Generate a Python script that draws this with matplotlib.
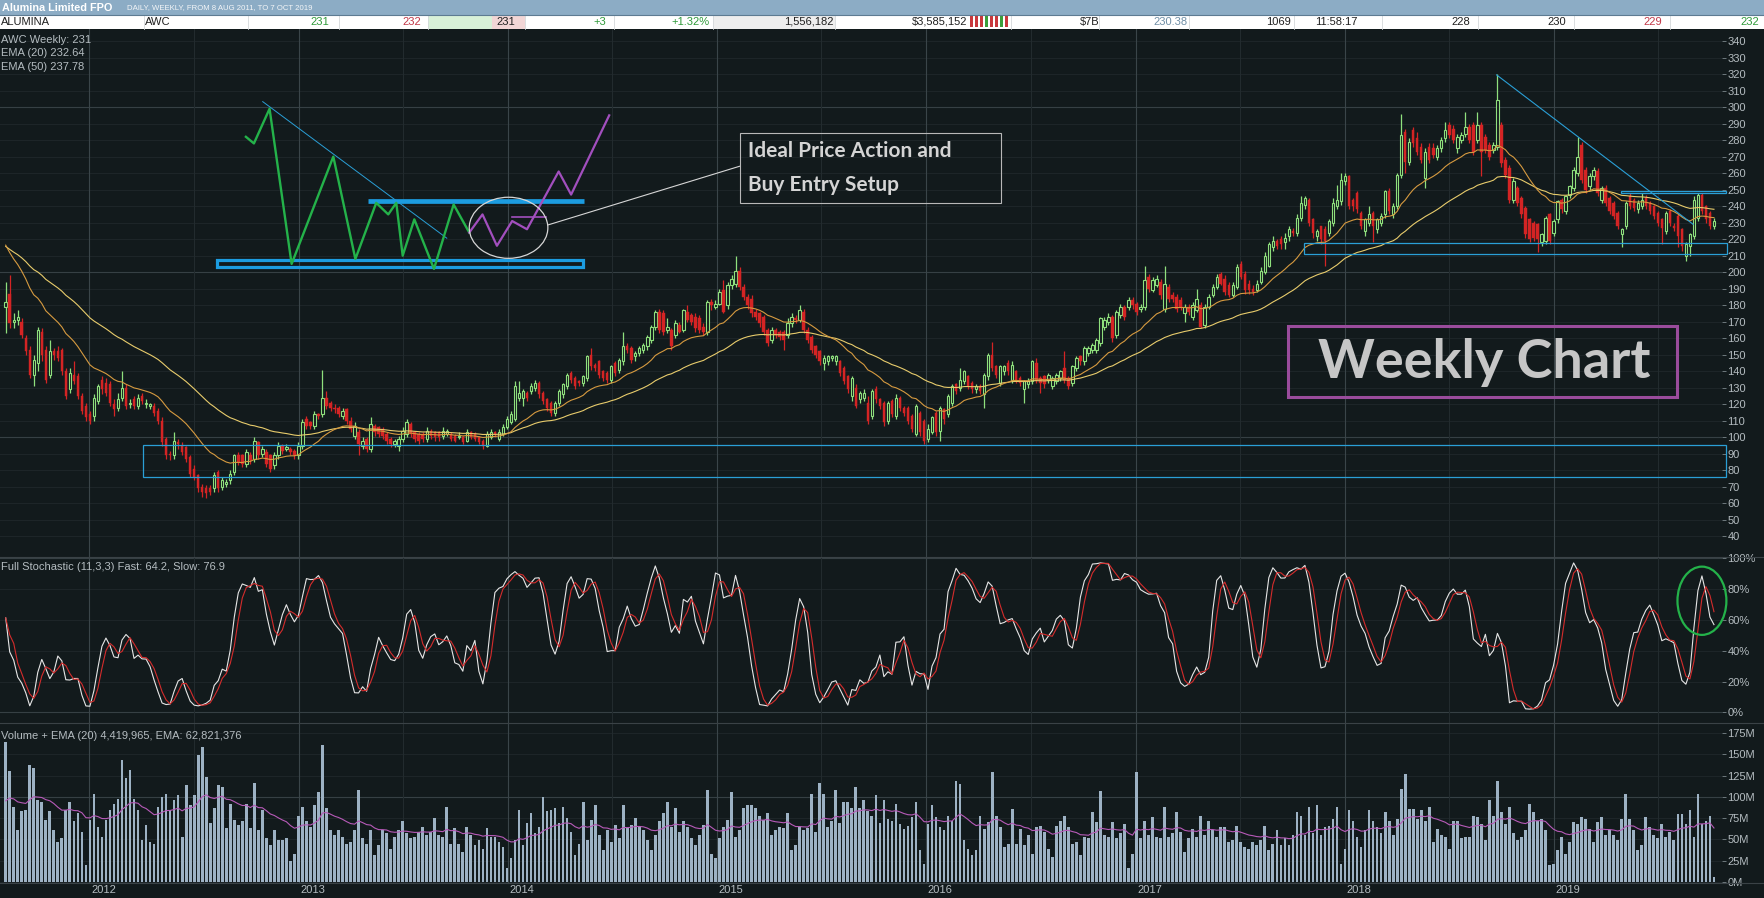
import numpy as np
import pandas as pd
import matplotlib
matplotlib.use("Agg")
import matplotlib.pyplot as plt
from matplotlib.patches import Rectangle, Ellipse
from matplotlib import font_manager as fm
import matplotlib.transforms as mtransforms

# ---------------------------------------------------------------- data
start_date = "2011-08-08"
years = [2012, 2013, 2014, 2015, 2016, 2017, 2018, 2019]
half_years = [2011, 2012, 2013, 2014, 2015, 2016, 2017, 2018, 2019]

opens = [
    179,187,170,171,170,160,153,138,145,164, 153,138,152,152,153,140,129,138,137,125,
    119,114,113,122,135,133,132,120,118,124, 130,120,123,119,125,120,119,119,116,110,
    99,90,89,97,95,94,88,81,77,70, 69,69,69,79,70,72,74,79,89,89,
    84,89,87,97,90,91,89,83,89,95, 93,93,92,89,95,111,109,107,114,114,
    124,121,118,118,113,117,110,101,103,95, 99,93,107,106,105,102,99,96,95,99,
    102,108,103,102,102,99,104,103,103,101, 102,102,101,100,100,98,103,102,100,98,
    95,100,103,99,102,106,109,111,124,124, 127,128,130,133,127,123,121,115,121,126,
    131,139,136,134,133,136,150,144,146,140, 139,135,145,141,146,155,154,149,151,153,
    155,159,167,176,175,165,165,162,168,165, 176,174,173,172,167,164,182,179,181,189,
    180,192,193,201,191,185,184,176,175,173, 165,159,165,164,164,162,169,172,171,176,
    165,161,155,152,145,146,148,146,146,142, 137,125,130,123,124,121,113,129,123,121,
    110,122,113,124,118,118,113,102,115,110, 99,103,115,104,117,114,121,132,130,134,
    137,133,129,131,126,137,150,143,133,140, 145,135,140,136,129,132,134,145,136,137,
    135,131,134,136,142,136,133,142,149,146, 151,153,153,157,167,170,173,162,174,179,
    179,183,181,178,179,197,189,192,194,178, 191,186,185,183,175,179,173,177,180,168,
    179,186,191,199,196,192,186,191,205,199, 193,190,189,194,200,204,215,219,220,218,
    222,225,224,233,241,244,232,222,228,226, 224,230,240,243,255,258,244,248,236,225,
    230,236,226,230,235,249,235,240,259,285, 267,286,281,276,257,276,275,270,275,281,
    289,287,275,280,284,288,289,280,289,282, 277,274,276,289,268,263,244,251,245,239,
    232,230,229,218,219,235,224,232,244,237, 247,251,260,277,262,252,258,261,244,251,
    245,242,236,223,228,246,244,238,240,245, 242,240,236,232,225,237,228,234,226,210,
    216,222,233,247,240,236,228,
]
closes = [
    182,169,171,173,162,152,138,147,165,150, 135,152,150,148,140,125,139,134,125,116,
    112,110,124,131,129,127,121,117,123,130, 119,121,119,124,122,121,120,115,110,97,
    89,89,98,96,91,87,78,76,69,67, 66,67,77,69,74,73,78,89,85,84,
    91,86,98,89,93,84,81,89,95,92, 94,91,89,95,109,107,107,114,113,124,
    119,118,117,114,116,110,105,107,96,98, 93,108,103,102,101,98,96,98,99,104,
    109,102,99,98,99,104,101,100,100,104, 104,99,98,101,97,103,100,99,97,95,
    102,103,102,103,106,111,114,131,127,128, 124,131,133,126,122,118,115,121,128,132,
    138,135,131,133,137,149,143,142,138,136, 135,143,139,147,155,153,147,151,154,156,
    161,167,176,165,164,167,155,169,164,177, 171,170,166,165,164,182,180,181,188,176,
    192,196,201,191,185,180,175,173,169,164, 157,165,162,161,159,169,173,171,177,165,
    159,153,150,146,148,149,149,149,139,134, 129,136,119,127,127,110,128,123,119,109,
    121,114,124,118,115,110,105,119,103,98, 105,112,103,118,111,125,131,128,135,140,
    131,129,131,128,138,150,142,138,143,143, 140,144,135,133,134,134,146,135,133,132,
    138,136,138,140,135,131,143,148,146,154, 154,156,159,172,171,173,160,176,179,173,
    183,180,176,179,195,190,195,196,186,193, 184,184,178,179,179,176,180,184,167,179,
    185,191,197,193,188,186,192,203,197,189, 189,188,193,201,210,217,219,216,217,221,
    226,224,233,242,245,230,224,225,220,219, 231,242,244,256,258,240,240,238,228,232,
    235,228,232,234,249,237,240,259,283,267, 279,278,273,268,273,268,271,275,280,286,
    283,280,282,283,288,280,273,289,273,274, 270,277,304,266,259,244,255,242,235,223,
    220,221,220,223,233,219,231,243,238,246, 252,262,270,256,250,258,262,248,251,242,
    237,234,228,226,242,240,239,242,244,240, 237,234,230,227,236,230,227,222,216,217,
    223,244,247,237,232,228,231,
]
highs = [
    194,198,175,177,172,162,155,150,167,166, 155,159,154,155,154,142,142,146,139,127,
    121,116,126,132,137,136,134,123,127,140, 132,123,125,126,127,123,121,121,118,112,
    100,92,103,99,97,95,89,83,78,72, 71,71,79,80,76,75,80,90,91,90,
    93,91,100,98,95,93,90,91,97,96, 96,94,93,97,111,113,110,116,115,141,
    128,122,120,119,118,118,112,109,105,100, 100,112,108,107,106,103,100,99,101,106,
    111,109,104,103,103,106,105,104,104,106, 105,103,102,103,101,105,104,103,101,99,
    104,105,104,105,108,113,116,134,134,129, 128,133,135,134,128,124,122,122,129,133,
    139,140,137,135,138,150,154,145,147,141, 140,144,146,148,164,157,155,152,155,157,
    162,168,177,178,177,172,166,171,170,178, 180,175,175,174,169,183,184,183,190,195,
    194,198,210,203,193,187,186,178,176,174, 166,167,166,165,165,172,175,174,180,178,
    167,162,156,153,150,150,150,150,147,143, 138,137,132,128,129,125,129,131,124,122,
    122,123,126,125,119,119,114,120,116,111, 108,113,116,119,118,126,132,133,142,141,
    138,134,132,132,139,151,158,144,144,144, 147,146,141,137,135,136,147,148,137,138,
    139,137,139,141,152,137,144,149,150,155, 155,157,160,173,173,175,174,177,181,180,
    185,185,182,181,204,199,197,198,196,204, 193,188,187,185,181,181,182,190,182,181,
    187,193,199,200,198,194,194,205,207,201, 195,192,195,203,212,218,222,220,222,224,
    228,227,235,246,246,245,233,226,228,228, 232,245,253,260,260,259,245,249,237,233,
    240,237,233,236,250,251,242,260,296,287, 281,288,285,278,275,278,278,277,282,291,
    291,289,284,285,297,290,291,297,291,284, 279,279,320,291,270,265,257,252,246,240,
    233,231,230,224,234,236,232,244,245,247, 253,264,282,279,264,260,264,263,252,253,
    246,243,237,227,243,248,245,244,248,247, 243,241,237,233,237,238,230,235,227,218,
    224,246,248,248,241,237,233,
]
lows = [
    163,166,166,168,160,150,136,131,140,146, 133,136,147,146,138,123,127,132,123,114,
    110,108,110,120,126,125,119,113,116,122, 117,118,117,117,120,118,117,113,108,95,
    87,86,87,93,89,85,76,74,67,64, 63,65,67,67,68,70,72,77,83,82,
    82,84,85,87,88,82,79,81,87,90, 92,89,87,87,93,105,105,105,111,112,
    117,116,115,112,111,108,103,99,89,93, 91,91,101,100,99,96,94,94,92,97,
    100,100,97,96,97,97,99,98,98,99, 101,98,97,99,96,97,99,98,96,93,
    94,99,100,98,101,105,108,110,122,119, 122,126,128,124,120,116,113,113,119,124,
    129,133,129,131,131,134,141,140,136,134, 133,133,137,139,144,151,145,146,149,151,
    153,157,165,163,162,163,153,160,163,164, 170,168,164,163,162,162,177,178,180,175,
    178,190,191,189,183,178,173,171,167,162, 155,157,160,159,153,160,167,169,170,163,
    157,151,148,144,141,144,146,144,137,132, 127,122,118,121,122,108,111,121,117,107,
    108,112,111,116,113,108,103,101,101,96, 97,102,101,98,108,112,119,126,128,132,
    129,127,127,126,118,135,140,136,131,138, 138,133,133,131,121,130,132,133,127,130,
    133,129,132,134,133,129,131,140,144,144, 149,151,151,155,165,168,158,160,172,171,
    177,178,174,176,177,188,188,191,184,176, 182,182,176,177,170,174,171,176,166,166,
    178,185,190,192,186,185,185,190,196,187, 187,186,188,193,199,203,213,214,214,214,
    219,222,222,231,238,228,221,219,217,204, 222,228,238,241,253,238,237,236,226,222,
    228,218,224,228,233,235,233,238,257,260, 265,276,271,266,251,266,269,268,273,279,
    281,278,272,278,282,278,271,278,258,272, 268,272,274,264,257,242,242,240,233,221,
    218,219,212,216,217,217,222,230,236,235, 245,249,258,254,248,250,256,246,242,240,
    235,232,226,215,226,238,237,236,238,238, 235,232,228,217,223,228,225,215,213,207,
    210,220,231,235,230,226,226,
]
# weekly volume, millions of shares
volumes = [
    165,130,88,61,83,85,138,134,96,94, 73,83,61,47,51,85,94,71,81,59,
    20,73,104,65,53,73,85,92,98,144, 122,132,98,85,49,67,47,45,88,
    100,104,85,96,102,53,114,90,102,149, 159,124,69,87,114,112,63,92,73,67,
    71,92,63,116,61,85,51,43,61, 49,49,51,24,33,77,88,71,65,90,
    106,161,87,61,55,61,53,45,47,61, 108,51,45,61,31,43,61,57,39,53,
    61,71,57,51,53,59,65,55,59,75, 55,53,88,45,63,45,35,65,55,43,
    49,39,63,53,53,47,41,16,28,49, 85,43,69,81,57,65,100,83,85,87,
    69,88,75,59,31,45,94,49,73,90, 55,37,61,47,67,51,90,63,67,
    75,65,61,49,37,55,71,81,94,65, 87,59,71,65,51,43,55,67,108,33,
    28,51,65,73,106,53,61,87,90,90, 87,77,73,81,55,61,65,63,81,
    37,43,65,61,63,104,59,116,104,65, 71,108,69,94,94,87,112,87,96,83,
    77,102,69,
    96,74,72,92,68,62,66,76,94,37, 21,68,90,76,64,61,78,72,119,
    115,49,39,31,37,78,62,70,129,78, 64,41,45,86,45,62,43,55,33,64,
    66,59,39,29,66,72,78,64,45, 47,31,53,51,82,70,107,55,53,70,
    51,57,68,16,33,129,51,72,55,76, 53,51,88,53,57,82,59,35,51,62,
    53,78,55,72,61,53,64,64,47,49, 66,47,41,39,47,43,49,66,37,45,
    61,43,51,43,55,82,78,55,88,57, 90,55,64,66,74,88,21,39,84,72,
    53,41,61,84,72,64,57,82,72,55, 74,109,127,86,86,74,84,72,88,47,
    62,55,53,39,72,72,51,53,53,78, 76,68,49,96,78,119,82,68,88,57,
    49,53,61,92,82,72,74,61,20, 21,37,53,33,47,70,68,76,74,62,
    47,70,76,55,61,55,49,74,104,74, 61,37,43,76,64,55,51,68,53,59,
    49,80,80,68,84,53,104,68,72,78, 6,
]
# EMA values carried in from before the first visible week
ema20_seed, ema50_seed, vol_ema_seed = 220, 217, 88

# hand-drawn annotation paths (week index, price)
green_path_x = [59.9, 61.9, 65.8, 71.3, 81.7, 87.2, 92.4, 95.4, 97.4, 99.0, 101.9, 106.8, 111.7, 115.6]
green_path_y = [282, 278, 299, 205, 270, 208, 242, 235, 242, 210, 232, 202, 241, 224]
purple_path_x = [115.6, 118.9, 122.5, 126.3, 130.0, 137.9, 141.0, 150.5]
purple_path_y = [224, 235, 216, 231, 226, 261, 247, 295]

n = len(closes)
for name, arr in [("opens", opens), ("highs", highs), ("lows", lows), ("volumes", volumes)]:
    assert len(arr) == n, (name, len(arr), n)

O = np.array(opens, float); C = np.array(closes, float)
Hh = np.array(highs, float); Ll = np.array(lows, float)
V = np.array(volumes, float)

dates = pd.date_range(start_date, periods=n, freq="7D")
x = np.arange(n)
t0 = dates[0]
year_pos = [(pd.Timestamp(f"{y}-01-01") - t0).days / 7 for y in years]
half_pos = [(pd.Timestamp(f"{y}-07-01") - t0).days / 7 for y in half_years]

def ema(vals, span, seed):
    a = 2.0 / (span + 1)
    out, prev = [], seed
    for v in vals:
        prev = prev + a * (v - prev)
        out.append(prev)
    return np.array(out)

ema20 = ema(C, 20, ema20_seed)
ema50 = ema(C, 50, ema50_seed)
vol_ema = ema(V, 20, vol_ema_seed)
hh = pd.Series(Hh).rolling(11, min_periods=1).max()
ll = pd.Series(Ll).rolling(11, min_periods=1).min()
raw_k = 100 * (pd.Series(C) - ll) / (hh - ll)
fast = raw_k.rolling(3, min_periods=1).mean().values
slow = pd.Series(fast).rolling(3, min_periods=1).mean().values

# ---------------------------------------------------------------- style
W, H, DPI = 1765, 898, 100
BG = "#121a1c"
GRID_F = "#1d2528"
GRID_B = "#364044"
VGRID_J = "#3a4549"
VGRID_H = "#222b2e"
LBL = "#b4bcc0"
UP = "#8fe07d"
DN = "#d42424"
BLUE = "#1c9ce0"
TBLUE = "#2a9fd6"

avail = {f.name for f in fm.fontManager.ttflist}
NARROW = "Liberation Sans Narrow" if "Liberation Sans Narrow" in avail else (
    "Liberation Sans" if "Liberation Sans" in avail else "DejaVu Sans")
BOLD = "Lato" if "Lato" in avail else ("Open Sans" if "Open Sans" in avail else "DejaVu Sans")
plt.rcParams["font.family"] = [NARROW, "DejaVu Sans"]

fig = plt.figure(figsize=(W / DPI, H / DPI), dpi=DPI, facecolor=BG)

def fy(ypx):
    return 1 - ypx / H

XR = 1722
xlim = (-5.7 / 4.01, (XR - 5.7) / 4.01)

ax = fig.add_axes([0, fy(557), XR / W, (557 - 29) / H], facecolor=BG)
axs = fig.add_axes([0, fy(722.5), XR / W, (722.5 - 557) / H], facecolor=BG)
axv = fig.add_axes([0, fy(883), XR / W, (883 - 722.5) / H], facecolor=BG)

for a in (ax, axs, axv):
    a.set_xlim(*xlim)
    for s in a.spines.values():
        s.set_visible(False)
    a.set_xticks([])
    a.yaxis.tick_right()
    a.tick_params(axis="y", colors="#7d888d", labelcolor=LBL, labelsize=8, length=3, width=0.6, pad=1)
    for p in year_pos:
        a.axvline(p, color=VGRID_J, lw=0.8, zorder=0.5)
    for p in half_pos:
        a.axvline(p, color=VGRID_H, lw=0.8, zorder=0.4)

# ---------------------------------------------------------------- price panel
ax.set_ylim(27.5, 347.3)
price_ticks = list(range(40, 341, 10))
for v in price_ticks:
    ax.axhline(v, color=GRID_B if v % 100 == 0 else GRID_F, lw=0.8, zorder=0.3)
ax.set_yticks(price_ticks)
ax.set_yticklabels([str(v) for v in price_ticks])

up = C >= O
dn = ~up
ax.vlines(x[up], Ll[up], Hh[up], colors=UP, lw=0.9, zorder=2)
ax.vlines(x[dn], Ll[dn], Hh[dn], colors=DN, lw=0.9, zorder=2)
ax.bar(x[up], np.maximum(C[up] - O[up], 0.3), bottom=O[up], width=0.6,
       facecolor=BG, edgecolor=UP, lw=0.8, zorder=3)
ax.bar(x[dn], O[dn] - C[dn], bottom=C[dn], width=0.62,
       facecolor=DN, edgecolor=DN, lw=0.3, zorder=3)
ax.plot(x, ema50, color="#e8cc6c", lw=0.8, zorder=4)
ax.plot(x, ema20, color="#d69a40", lw=0.8, zorder=4)

# annotations drawn on the price panel
ax.add_patch(Rectangle((34.2, 75.8), 394.8, 19.8, fc="none", ec=TBLUE, lw=0.9, clip_on=False, zorder=5))
ax.add_patch(Rectangle((323.8, 210.9), 105.4, 7.0, fc="none", ec=TBLUE, lw=0.9, clip_on=False, zorder=5))
ax.add_patch(Rectangle((402.8, 247.8), 26.2, 1.4, fc="none", ec=TBLUE, lw=0.9, clip_on=False, zorder=5))
ax.plot([371.8, 420.8], [319.5, 229.0], color=TBLUE, lw=0.8, zorder=5)

ax.plot([64.1, 110.0], [303.3, 220.6], color=TBLUE, lw=0.7, zorder=5)
ax.add_patch(Rectangle((52.8, 203.3), 91.1, 4.3, fc="none", ec=BLUE, lw=2.3, zorder=5))
ax.plot([90.4, 144.1], [243.2, 243.2], color=BLUE, lw=3.4, solid_capstyle="butt", zorder=5)
ax.plot(green_path_x, green_path_y, color="#24b24a", lw=1.7, zorder=6)
ax.plot(purple_path_x, purple_path_y, color="#a24fbe", lw=1.6, zorder=6)
ax.plot([126.3, 134.8], [233.3, 233.3], color="#a24fbe", lw=1.2, zorder=6)
ax.add_patch(Ellipse((125.4, 226.9), 19.6, 37.0, fc="none", ec="#d6d6d6", lw=0.9, zorder=6))
ax.plot([135.2, 183.2], [228.6, 264.3], color="#d6d6d6", lw=0.8, zorder=6)
ax.add_patch(Rectangle((183.2, 242.1), 65.1, 42.4, fc="none", ec="#b8b8b8", lw=0.8, zorder=6))
ax.text(185.0, 273.6, "Ideal Price Action and", family=[BOLD, "DejaVu Sans"], fontweight="bold",
        fontsize=15, color="#d4d4d4", ha="left", va="center", zorder=7)
ax.text(185.0, 252.8, "Buy Entry Setup", family=[BOLD, "DejaVu Sans"], fontweight="bold",
        fontsize=15, color="#d4d4d4", ha="left", va="center", zorder=7)

ax.add_patch(Rectangle((319.7, 124.2), 97.2, 43.4, fc="none", ec="#9a4c9c", lw=2.2, zorder=6))
ax.text(368.6, 135.8, "Weekly Chart", family=[BOLD, "DejaVu Sans"], fontweight="bold",
        fontsize=39, color="#c6c6c6", ha="center", va="baseline", zorder=7)

# ---------------------------------------------------------------- stochastic panel
axs.set_ylim(-6.6, 100.8)
st_ticks = [0, 20, 40, 60, 80, 100]
for v in st_ticks:
    axs.axhline(v, color=GRID_B if v in (0, 100) else GRID_F, lw=0.8, zorder=0.3)
axs.set_yticks(st_ticks)
axs.set_yticklabels([f"{v}%" for v in st_ticks])
axs.plot(x, fast, color="#e6e6e6", lw=0.8, zorder=3)
axs.plot(x, slow, color="#d42c2c", lw=0.8, zorder=4)
axs.add_patch(Ellipse((423.0, 72.4), 12.2, 44.3, fc="none", ec="#24b24a", lw=1.6, clip_on=False, zorder=6))

# ---------------------------------------------------------------- volume panel
axv.set_ylim(-1.5, 187.7)
v_ticks = list(range(0, 176, 25))
for v in v_ticks:
    axv.axhline(v, color=GRID_B if v == 100 else GRID_F, lw=0.8, zorder=0.3)
axv.set_yticks(v_ticks)
axv.set_yticklabels([f"{v}M" for v in v_ticks])
axv.bar(x, V, width=0.68, color="#9db2c4", zorder=2)
axv.plot(x, vol_ema, color="#b75ab8", lw=0.8, zorder=3)

# year labels
trans = mtransforms.blended_transform_factory(axv.transData, fig.transFigure)
for y, p in zip(years, year_pos):
    fig.text(p + 0.4, fy(890), str(y), transform=trans, color=LBL, fontsize=8,
             ha="left", va="center")

# panel separators
for yy in (557, 722.5, 883):
    fig.add_artist(plt.Line2D([0, 1], [fy(yy), fy(yy)], transform=fig.transFigure,
                              color="#3a4246", lw=0.8))

# ---------------------------------------------------------------- header
fig.add_artist(Rectangle((0, fy(14.7)), 1, 14.7 / H, transform=fig.transFigure,
                         fc="#8cacc5", ec="none"))
fig.add_artist(Rectangle((0, fy(29)), 1, 14.3 / H, transform=fig.transFigure,
                         fc="#ffffff", ec="none"))
for x0, x1, col in [(428, 492.5, "#d8f1d8"), (492.5, 525, "#f2d6d6"), (713.5, 835, "#eeeeee")]:
    fig.add_artist(Rectangle((x0 / W, fy(29)), (x1 - x0) / W, 14.3 / H, transform=fig.transFigure,
                             fc=col, ec="none"))
for sx in [143.5, 248, 338.7, 428, 525, 614, 713.5, 835, 1011, 1099, 1189, 1293.6, 1382, 1478, 1574, 1670]:
    fig.add_artist(plt.Line2D([sx / W, sx / W], [fy(28.5), fy(15.2)], transform=fig.transFigure,
                              color="#d4d8da", lw=0.6))
fig.add_artist(plt.Line2D([0, 1], [fy(14.7), fy(14.7)], transform=fig.transFigure, color="#5d7b92", lw=0.8))

fig.text(2 / W, fy(7.6), "Alumina Limited FPO", color="white", fontsize=7.8, fontweight="bold",
         ha="left", va="center")
fig.text(127 / W, fy(7.8), "DAILY, WEEKLY, FROM 8 AUG 2011, TO 7 OCT 2019", color="#f4f6f8",
         fontsize=5.6, ha="left", va="center")

row_y = fy(22)
quote_cells = [
    (1, "left", "ALUMINA", "#202020"),
    (145, "left", "AWC", "#202020"),
    (329, "right", "231", "#2f9a3a"),
    (421, "right", "232", "#c23848"),
    (515, "right", "231", "#202020"),
    (606, "right", "+3", "#2f9a3a"),
    (709.5, "right", "+1.32%", "#2f9a3a"),
    (833.5, "right", "1,556,182", "#202020"),
    (967.5, "right", "$3,585,152", "#202020"),
    (1099, "right", "$7B", "#202020"),
    (1187.6, "right", "230.38", "#6f8ea6"),
    (1290.8, "right", "1069", "#202020"),
    (1357, "right", "11:58:17", "#202020"),
    (1469.7, "right", "228", "#202020"),
    (1565.7, "right", "230", "#202020"),
    (1661.6, "right", "229", "#c23848"),
    (1758.7, "right", "232", "#2f9a3a"),
]
for px, ha, s, col in quote_cells:
    fig.text(px / W, row_y, s, color=col, fontsize=8, ha=ha, va="center")
tick_cols = ["#c8383c", "#c8383c", "#c8383c", "#3a9e3a", "#c8383c", "#c8383c", "#3a9e3a", "#c8383c"]
for k, col in enumerate(tick_cols):
    fig.add_artist(Rectangle(((970 + k * 5) / W, fy(26.5)), 3 / W, 10 / H, transform=fig.transFigure,
                             fc=col, ec="none"))

# panel legends
for yy, s in [(40, "AWC Weekly: 231"), (53.3, "EMA (20) 232.64"), (66.7, "EMA (50) 237.78"),
              (566.7, "Full Stochastic (11,3,3) Fast: 64.2, Slow: 76.9"),
              (736, "Volume + EMA (20) 4,419,965, EMA: 62,821,376")]:
    fig.text(1 / W, fy(yy), s, color=LBL, fontsize=8, ha="left", va="center")

fig.savefig("out.png", dpi=DPI, facecolor=BG)
